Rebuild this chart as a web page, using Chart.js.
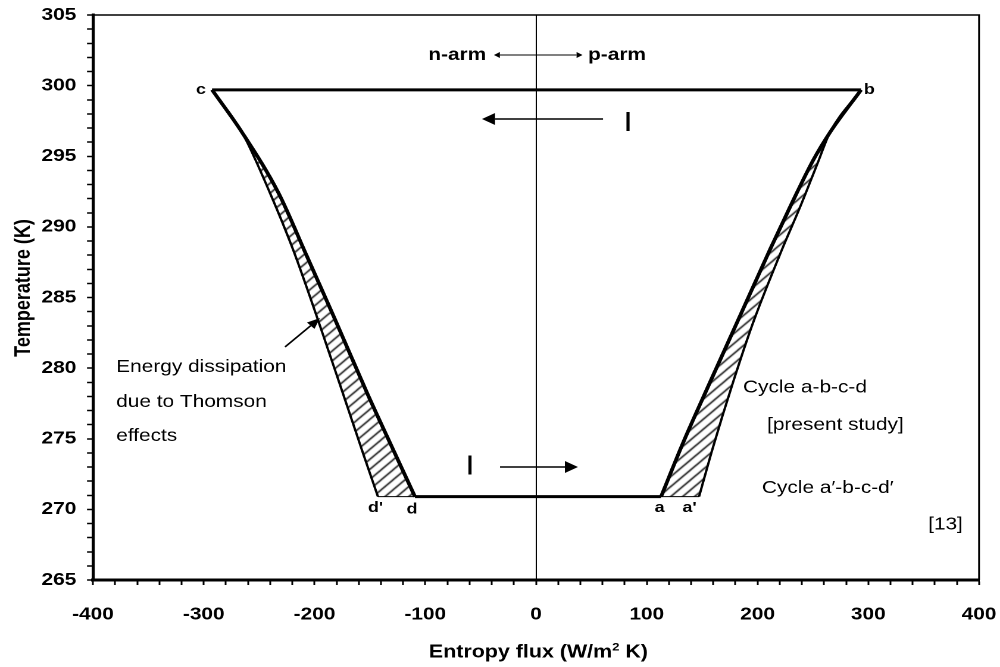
<!DOCTYPE html>
<html><head><meta charset="utf-8">
<script src="https://cdn.jsdelivr.net/npm/chart.js@4.4.1/dist/chart.umd.min.js"></script>
<style>
html,body{margin:0;padding:0;background:#fff;overflow:hidden;width:1000px;height:667px}
#wrap{position:absolute;left:0;top:0;width:840px;height:667px;transform:scaleX(1.1904762);transform-origin:0 0}
canvas{display:block}
</style></head><body>
<div id="wrap"><canvas id="chart" width="840" height="667"></canvas></div>
<script>
const FONT = "'Liberation Sans', Arial, Helvetica, sans-serif";

// axis ranges / tick labels
const xRange = [-400, 400];
const yRange = [265, 305];
const xLabelEvery = 100;
const yLabelEvery = 5;
const xTitle = ['Entropy flux (W/m', '2', ' K)'];
const yTitle = 'Temperature (K)';

// isotherm temperatures (K)
const topT = 299.7;
const bottomT = 270.9;

// n-arm (left) curves: entropy flux S and temperature T
const leftOuterS = [-292.5, -265.5, -240.2, -219.4, -196.8, -174.3, -155.0, -142.7];
const leftOuterT = [299.7, 296.7, 292.4, 288.4, 283.4, 278.2, 273.7, 270.9];
const leftInnerS = [-292.5, -265.5, -232.5, -207.3, -182.3, -152.3, -128.8, -109.3];
const leftInnerT = [299.7, 296.7, 292.4, 288.0, 283.6, 278.2, 274.2, 270.9];

// p-arm (right) curves
const rightInnerS = [112.9, 132.7, 157.1, 183.6, 211.3, 229.3, 250.1, 265.5, 293.5];
const rightInnerT = [270.9, 274.7, 279.0, 283.6, 288.4, 291.4, 294.7, 296.7, 299.7];
const rightOuterS = [147.2, 159.8, 177.9, 195.9, 222.1, 238.4, 253.7, 265.5, 293.5];
const rightOuterT = [270.9, 274.4, 279.0, 283.2, 288.4, 291.4, 294.4, 296.7, 299.7];

const pts = (S, T) => S.map((s, i) => ({x: s, y: T[i]}));
const leftOuter = pts(leftOuterS, leftOuterT);
const leftInner = pts(leftInnerS, leftInnerT);
const rightInner = pts(rightInnerS, rightInnerT);
const rightOuter = pts(rightOuterS, rightOuterT);

const leftHatch = leftOuter.slice(1).concat(leftInner.slice(1).reverse());
const rightHatch = rightInner.slice(0, -1).concat(rightOuter.slice(0, -1).reverse());

const topLine = [{x: leftOuterS[0], y: topT}, {x: rightOuterS[rightOuterS.length - 1], y: topT}];
const bottomLine = [{x: leftInnerS[leftInnerS.length - 1], y: bottomT}, {x: rightInnerS[0], y: bottomT}];
const leftBase = [{x: leftOuterS[leftOuterS.length - 1], y: bottomT}, {x: leftInnerS[leftInnerS.length - 1], y: bottomT}];
const rightBase = [{x: rightInnerS[0], y: bottomT}, {x: rightOuterS[0], y: bottomT}];

// annotations (data coordinates)
const notes = [
  {t: 'n-arm', x: -45, y: 302.17, align: 'right', font: 'bold 17.5px'},
  {t: 'p-arm', x: 47, y: 302.17, align: 'left', font: 'bold 17.5px'},
  {t: 'I', x: 83, y: 297.35, align: 'center', font: '28px'},
  {t: 'I', x: -59.6, y: 273.0, align: 'center', font: '28px'},
  {t: 'c', x: -298, y: 299.7, align: 'right', font: 'bold 15px'},
  {t: 'b', x: 296, y: 299.7, align: 'left', font: 'bold 15px'},
  {t: "d'", x: -144.9, y: 270.1, align: 'center', font: 'bold 15px'},
  {t: 'd', x: -112, y: 270.0, align: 'center', font: 'bold 15px'},
  {t: 'a', x: 111.5, y: 270.1, align: 'center', font: 'bold 15px'},
  {t: "a'", x: 138.6, y: 270.1, align: 'center', font: 'bold 15px'},
  {t: 'Energy dissipation', x: -379, y: 280.08, align: 'left', font: '17.5px'},
  {t: 'due to Thomson', x: -379, y: 277.6, align: 'left', font: '17.5px'},
  {t: 'effects', x: -379, y: 275.2, align: 'left', font: '17.5px'},
  {t: 'Cycle a-b-c-d', x: 186.9, y: 278.6, align: 'left', font: '17.5px'},
  {t: '[present study]', x: 208.6, y: 275.97, align: 'left', font: '17.5px'},
  {t: 'Cycle a\u2032-b-c-d\u2032', x: 204, y: 271.5, align: 'left', font: '17.5px'},
  {t: '[13]', x: 354, y: 268.9, align: 'left', font: '17.5px'}
];
const arrows = [
  {from: [-38, 302.17], to: [42, 302.17], both: true, head: 5, w: 6, lw: 1},
  {from: [60.5, 297.64], to: [-48.8, 297.64], head: 11, w: 12, lw: 1.5},
  {from: [-32.5, 273.0], to: [37.9, 273.0], head: 11, w: 12, lw: 1.5},
  {from: [-226.6, 281.5], to: [-195, 283.55], head: 11, w: 9, lw: 1.5}
];

function makeHatch() {
  const n = 10;
  const c = document.createElement('canvas');
  c.width = n; c.height = n;
  const g = c.getContext('2d');
  g.strokeStyle = '#000'; g.lineWidth = 1.3;
  g.beginPath();
  g.moveTo(-1, n + 1); g.lineTo(n + 1, -1);
  g.moveTo(-1, 1); g.lineTo(1, -1);
  g.moveTo(n - 1, n + 1); g.lineTo(n + 1, n - 1);
  g.stroke();
  return c;
}
const ctx0 = document.getElementById('chart').getContext('2d');
const hatchPattern = ctx0.createPattern(makeHatch(), 'repeat');

function drawArrow(ctx, x1, y1, x2, y2, head, w, lw, both) {
  const ang = Math.atan2(y2 - y1, x2 - x1);
  const c = Math.cos(ang), s = Math.sin(ang);
  const sx = both ? x1 + head * c : x1, sy = both ? y1 + head * s : y1;
  const ex = x2 - head * c, ey = y2 - head * s;
  ctx.lineWidth = lw;
  ctx.beginPath(); ctx.moveTo(sx, sy); ctx.lineTo(ex, ey); ctx.stroke();
  const tri = (px, py, bx, by) => {
    ctx.beginPath(); ctx.moveTo(px, py);
    ctx.lineTo(bx + w / 2 * s, by - w / 2 * c);
    ctx.lineTo(bx - w / 2 * s, by + w / 2 * c);
    ctx.closePath(); ctx.fill();
  };
  tri(x2, y2, ex, ey);
  if (both) tri(x1, y1, sx, sy);
}

const annotPlugin = {
  id: 'annot',
  afterDraw(chart) {
    const {ctx, chartArea: a, scales: {x, y}} = chart;
    ctx.save();
    ctx.strokeStyle = '#000'; ctx.fillStyle = '#000';
    ctx.lineWidth = 1.5;
    ctx.beginPath();
    ctx.moveTo(a.left, a.top); ctx.lineTo(a.right, a.top); ctx.lineTo(a.right, a.bottom);
    ctx.stroke();
    ctx.textBaseline = 'middle';
    notes.forEach(n => {
      ctx.font = n.font + ' ' + FONT;
      ctx.textAlign = n.align;
      ctx.fillText(n.t, x.getPixelForValue(n.x), y.getPixelForValue(n.y));
    });
    arrows.forEach(r => {
      drawArrow(ctx, x.getPixelForValue(r.from[0]), y.getPixelForValue(r.from[1]),
        x.getPixelForValue(r.to[0]), y.getPixelForValue(r.to[1]), r.head, r.w, r.lw, r.both);
    });
    // axis titles
    const big = 'bold 18px ' + FONT, small = 'bold 11px ' + FONT;
    ctx.textAlign = 'left'; ctx.textBaseline = 'alphabetic';
    ctx.font = big; const w1 = ctx.measureText(xTitle[0]).width, w3 = ctx.measureText(xTitle[2]).width;
    ctx.font = small; const w2 = ctx.measureText(xTitle[1]).width;
    let tx = (a.left + a.right) / 2 + 2 - (w1 + w2 + w3) / 2;
    const base = a.bottom + 77.5;
    ctx.font = big; ctx.fillText(xTitle[0], tx, base); tx += w1;
    ctx.font = small; ctx.fillText(xTitle[1], tx, base - 7); tx += w2;
    ctx.font = big; ctx.fillText(xTitle[2], tx, base);
    ctx.save();
    ctx.translate(20.2, (a.top + a.bottom) / 2 - 9.5);
    ctx.rotate(-Math.PI / 2);
    ctx.textAlign = 'center'; ctx.textBaseline = 'middle';
    ctx.font = big; ctx.fillText(yTitle, 0, 0);
    ctx.restore();
    ctx.restore();
  }
};

const lineDs = (data, width, extra) => Object.assign({
  data, borderColor: '#000', borderWidth: width, pointRadius: 0, fill: false,
  cubicInterpolationMode: 'monotone', order: 0
}, extra || {});

new Chart(ctx0, {
  type: 'line',
  data: {
    datasets: [
      lineDs(leftHatch, 0, {backgroundColor: hatchPattern, fill: 'shape', order: 5, borderColor: 'rgba(0,0,0,0)', cubicInterpolationMode: 'default', tension: 0}),
      lineDs(rightHatch, 0, {backgroundColor: hatchPattern, fill: 'shape', order: 5, borderColor: 'rgba(0,0,0,0)', cubicInterpolationMode: 'default', tension: 0}),
      lineDs(leftOuter, 2),
      lineDs(leftInner, 3.2),
      lineDs(rightInner, 3.2),
      lineDs(rightOuter, 2),
      lineDs(topLine, 3, {cubicInterpolationMode: 'default', tension: 0}),
      lineDs(bottomLine, 3, {cubicInterpolationMode: 'default', tension: 0}),
      lineDs(leftBase, 1, {cubicInterpolationMode: 'default', tension: 0}),
      lineDs(rightBase, 1, {cubicInterpolationMode: 'default', tension: 0})
    ]
  },
  options: {
    responsive: false,
    devicePixelRatio: 2,
    animation: false,
    events: [],
    layout: {padding: {top: 15, right: 17.6, bottom: 0, left: 0}},
    plugins: {legend: {display: false}, tooltip: {enabled: false}},
    scales: {
      x: {
        type: 'linear', min: xRange[0], max: xRange[1],
        afterFit: s => { s.height = 87; s.paddingLeft = 0; s.paddingRight = 0; },
        border: {display: true, color: '#000', width: 3},
        grid: {
          drawOnChartArea: true, drawTicks: true, tickLength: 5, tickWidth: 1.5, tickColor: '#000',
          color: c => (c.tick && c.tick.value === 0) ? '#000' : 'rgba(0,0,0,0)', lineWidth: 1
        },
        ticks: {
          stepSize: 20, autoSkip: false, maxTicksLimit: 100, maxRotation: 0, padding: 19,
          color: '#000', font: {family: FONT, size: 17.5, weight: 'bold'},
          callback: v => (v % xLabelEvery === 0 ? v : '')
        },
        title: {display: false}
      },
      y: {
        type: 'linear', min: yRange[0], max: yRange[1],
        afterFit: s => { s.width = 78.1; s.paddingTop = 0; s.paddingBottom = 0; },
        border: {display: true, color: '#000', width: 2.6},
        grid: {drawOnChartArea: false, drawTicks: true, tickLength: 5, tickWidth: 1.5, tickColor: '#000'},
        ticks: {
          stepSize: 1, autoSkip: false, maxTicksLimit: 100, padding: 9,
          color: '#000', font: {family: FONT, size: 17.5, weight: 'bold'},
          callback: v => (v % yLabelEvery === 0 ? v : '')
        },
        title: {display: false}
      }
    }
  },
  plugins: [annotPlugin]
});
</script>
</body></html>
